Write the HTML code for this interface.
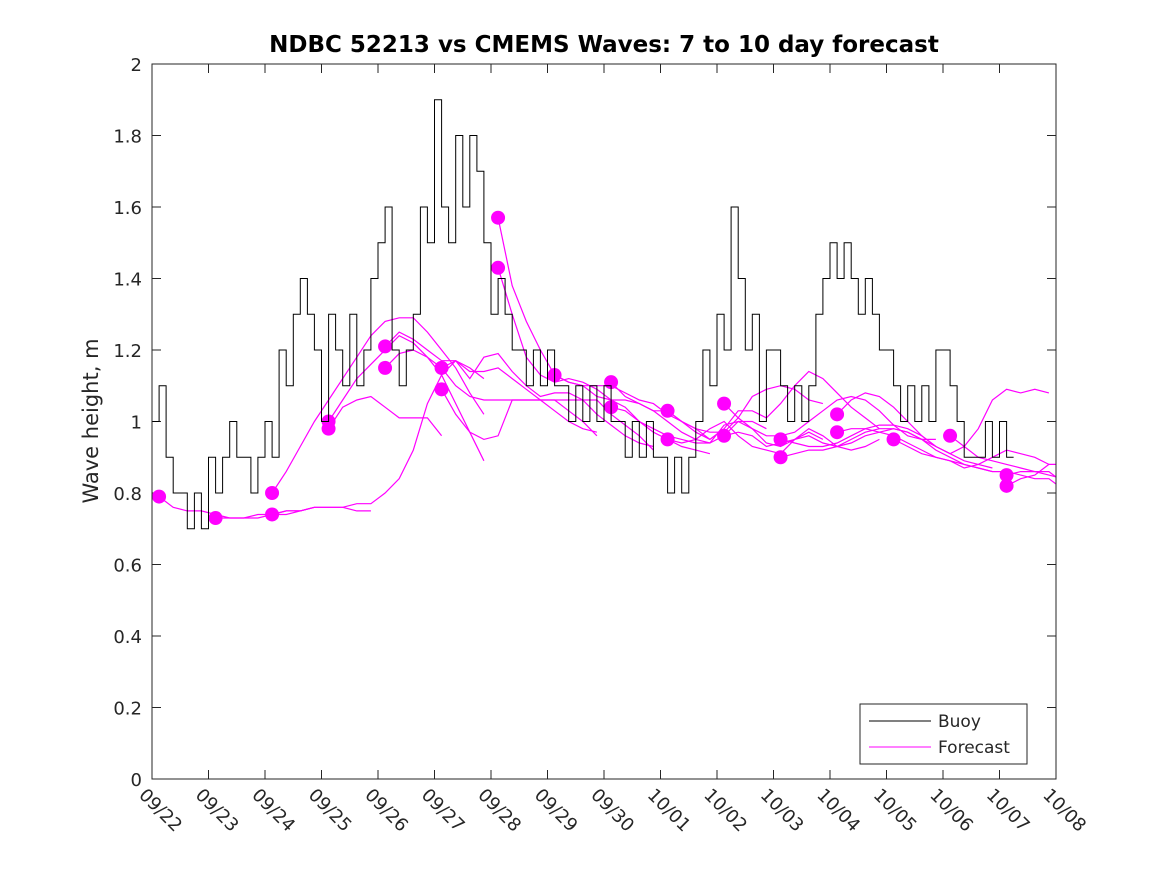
<!DOCTYPE html>
<html><head><meta charset="utf-8"><style>
html,body{margin:0;padding:0;background:#fff;}
svg{display:block;font-family:"DejaVu Sans","Liberation Sans",sans-serif;}
</style></head><body>
<svg id="chart" width="1167" height="875" viewBox="0 0 1167 875" xmlns="http://www.w3.org/2000/svg">
<rect width="1167" height="875" fill="#fff"/>
<defs><clipPath id="pc"><rect x="152" y="64" width="904" height="715"/></clipPath></defs>
<text x="604" y="52" text-anchor="middle" font-size="23" font-weight="bold">NDBC 52213 vs CMEMS Waves: 7 to 10 day forecast</text>
<text transform="translate(98,421) rotate(-90)" text-anchor="middle" font-size="21" fill="#262626">Wave height, m</text>
<g id="grid"></g>
<g id="forecasts" clip-path="url(#pc)"></g>
<g id="buoy" clip-path="url(#pc)"></g>
<rect x="152" y="64" width="904" height="715" fill="none" stroke="#262626" stroke-width="1"/>
<g>
<rect x="860" y="704" width="167" height="60" fill="#fff" stroke="#262626" stroke-width="1"/>
<line x1="869" y1="721" x2="931" y2="721" stroke="#000" stroke-width="1"/>
<text x="938" y="727" font-size="17" fill="#262626">Buoy</text>
<line x1="869" y1="747" x2="931" y2="747" stroke="#ff00ff" stroke-width="1"/>
<text x="938" y="753" font-size="17" fill="#262626">Forecast</text>
</g>
</svg>
<script>
const xTickLabels=["09/22","09/23","09/24","09/25","09/26","09/27","09/28","09/29","09/30","10/01","10/02","10/03","10/04","10/05","10/06","10/07","10/08"];
const yTicks=[0,0.2,0.4,0.6,0.8,1,1.2,1.4,1.6,1.8,2];
const yTickLabels=["0","0.2","0.4","0.6","0.8","1","1.2","1.4","1.6","1.8","2"];
// buoy: 3-hourly values from 09/22 00h
const buoyValues=[
1.0,1.1,0.9,0.8,0.8,0.7,0.8,0.7,
0.9,0.8,0.9,1.0,0.9,0.9,0.8,0.9,
1.0,0.9,1.2,1.1,1.3,1.4,1.3,1.2,
1.0,1.3,1.2,1.1,1.3,1.1,1.2,1.4,
1.5,1.6,1.2,1.1,1.2,1.3,1.6,1.5,
1.9,1.6,1.5,1.8,1.6,1.8,1.7,1.5,
1.3,1.4,1.3,1.2,1.2,1.1,1.2,1.1,
1.2,1.1,1.1,1.0,1.1,1.0,1.1,1.0,
1.1,1.0,1.0,0.9,1.0,0.9,1.0,0.9,
0.9,0.8,0.9,0.8,0.9,1.0,1.2,1.1,
1.3,1.2,1.6,1.4,1.2,1.3,1.0,1.2,
1.2,1.1,1.0,1.1,1.0,1.1,1.3,1.4,
1.5,1.4,1.5,1.4,1.3,1.4,1.3,1.2,
1.2,1.1,1.0,1.1,1.0,1.1,1.0,1.2,
1.2,1.1,1.0,0.9,0.9,0.9,1.0,0.9,
1.0,0.9];
// forecasts: start day (days after 09/22) and 6-hourly values
const forecastStarts=[0.125,1.125,2.125,2.125,3.125,3.125,4.125,4.125,5.125,5.125,6.125,6.125,7.125,8.125,8.125,9.125,9.125,10.125,10.125,11.125,11.125,12.125,12.125,13.125,14.125,15.125,15.125];
const forecastValues=[
[0.79,0.76,0.75,0.75,0.74,0.73,0.73,0.74,0.74,0.74,0.75,0.76],
[0.73,0.73,0.73,0.73,0.74,0.75,0.75,0.76,0.76,0.76,0.75,0.75],
[0.74,0.75,0.75,0.76,0.76,0.76,0.77,0.77,0.80,0.84,0.92,1.05,1.13,1.17,1.15,1.12],
[0.80,0.86,0.93,1.00,1.06,1.12,1.18,1.24,1.28,1.29,1.29,1.25,1.20,1.15,1.08,1.02],
[0.98,1.04,1.06,1.07,1.04,1.01,1.01,1.01,0.96],
[1.00,1.06,1.12,1.16,1.20,1.24,1.22,1.18,1.13,1.05,0.97,0.89],
[1.15,1.19,1.20,1.18,1.15,1.10,1.07,1.06,1.06,1.06,1.06,1.06,1.06,1.03,1.00,0.96],
[1.21,1.25,1.23,1.20,1.17,1.17,1.14,1.14,1.15,1.12,1.09,1.06,1.03,1.00,0.98,0.97],
[1.15,1.17,1.12,1.18,1.19,1.14,1.10,1.07,1.08,1.08,1.06,1.02,0.99,0.96,0.94,0.93],
[1.09,1.02,0.97,0.95,0.96,1.06,1.06,1.06,1.06,1.06,1.06,1.06,1.02,0.99,0.96,0.92],
[1.57,1.38,1.28,1.20,1.13,1.11,1.10,1.10,1.10,1.08,1.06,1.05,1.02,1.00,0.98,0.95],
[1.43,1.30,1.18,1.13,1.11,1.12,1.11,1.09,1.06,1.04,1.00,0.97,0.95,0.93,0.92,0.91],
[1.13,1.11,1.10,1.07,1.06,1.06,1.05,1.03,1.00,0.97,0.95,0.94,0.96,1.00,1.00,0.98],
[1.11,1.07,1.05,1.03,1.03,1.00,0.98,0.97,0.97,1.01,1.07,1.09,1.10,1.09,1.06,1.05],
[1.04,1.03,1.00,0.98,0.96,0.95,0.94,0.94,0.99,1.00,0.98,0.94,0.93,0.95,0.97,0.95],
[1.03,1.00,0.97,0.95,0.98,1.03,1.03,1.01,1.05,1.10,1.14,1.12,1.08,1.04,1.01,0.98],
[0.95,0.94,0.95,0.98,1.00,0.96,0.93,0.92,0.91,0.95,0.98,0.96,0.93,0.92,0.93,0.95],
[1.05,1.01,0.98,0.96,0.96,0.97,1.00,1.03,1.06,1.07,1.06,1.03,0.99,0.96,0.95,0.95],
[0.96,0.97,0.96,0.93,0.94,0.95,0.96,0.94,0.93,0.94,0.96,0.97,0.98,0.97,0.95,0.93],
[0.95,0.94,0.93,0.93,0.94,0.96,0.98,0.99,0.99,0.98,0.96,0.93,0.91,0.89,0.88,0.87],
[0.90,0.91,0.92,0.92,0.93,0.95,0.97,0.98,0.98,0.97,0.95,0.92,0.90,0.88,0.87,0.86],
[1.02,1.06,1.08,1.07,1.04,1.00,0.96,0.93,0.91,0.93,0.98,1.06,1.09,1.08,1.09,1.08],
[0.97,0.98,0.98,0.97,0.96,0.94,0.92,0.90,0.89,0.87,0.88,0.90,0.92,0.91,0.90,0.88],
[0.95,0.93,0.91,0.90,0.89,0.88,0.87,0.86,0.86,0.85,0.84,0.84,0.81,0.79,0.77,0.75],
[0.96,0.93,0.90,0.89,0.88,0.87,0.86,0.85,0.84,0.84,0.88,0.88,0.84,0.80,0.78,0.76],
[0.85,0.86,0.86,0.86,0.83,0.80,0.79,0.78],
[0.82,0.84,0.85,0.88,0.88,0.83,0.80,0.76]];

const NS="http://www.w3.org/2000/svg";
const X0=152,X1=1056,Y0=779,Y1=64,DAYS=16,YMAX=2;
function xs(d){return X0+(X1-X0)*d/DAYS;}
function ys(v){return Y0-(Y0-Y1)*v/YMAX;}
function mk(tag,attrs,parent){const e=document.createElementNS(NS,tag);for(const k in attrs)e.setAttribute(k,attrs[k]);parent.appendChild(e);return e;}
const grid=document.getElementById('grid');
xTickLabels.forEach((lab,i)=>{
  const x=xs(i);
  const t1=mk('line',{x1:x,y1:Y0,x2:x,y2:Y0-9,stroke:'#262626'},grid);
  
  
  const t2=mk('line',{x1:x,y1:Y1,x2:x,y2:Y1+9,stroke:'#262626'},grid);
  
  
  const tx=mk('text',{transform:`translate(${x-14},${Y0+17}) rotate(45)`,'font-size':'18',fill:'#262626'},grid);
  tx.textContent=lab;
  
  
});
yTicks.forEach((v,i)=>{
  const y=ys(v);
  const t1=mk('line',{x1:X0,y1:y,x2:X0+9,y2:y,stroke:'#262626'},grid);
  
  
  const t2=mk('line',{x1:X1,y1:y,x2:X1-9,y2:y,stroke:'#262626'},grid);
  
  
  const tx=mk('text',{x:X0-10,y:y+7,'text-anchor':'end','font-size':'18',fill:'#262626'},grid);
  tx.textContent=yTickLabels[i];
  
  
});
let d='';
buoyValues.forEach((v,i)=>{
  const xa=xs(i/8),xb=xs((i+1)/8),y=ys(v);
  d+=(i===0?'M':'L')+xa.toFixed(1)+','+y.toFixed(1)+'L'+xb.toFixed(1)+','+y.toFixed(1);
});
const bp=mk('path',{d:d,fill:'none',stroke:'#000','stroke-width':'1'},document.getElementById('buoy'));


const fg=document.getElementById('forecasts');
forecastValues.forEach((vals,k)=>{
  const s=forecastStarts[k];
  const pts=vals.map((v,j)=>xs(s+j*0.25).toFixed(1)+','+ys(v).toFixed(1)).join(' ');
  const pl=mk('polyline',{points:pts,fill:'none',stroke:'#ff00ff','stroke-width':'1.2'},fg);
  
  
});
forecastValues.forEach((vals,k)=>{
  const c=mk('circle',{cx:xs(forecastStarts[k]),cy:ys(vals[0]),r:7,fill:'#ff00ff'},fg);
  
  
});
</script>
</body></html>
